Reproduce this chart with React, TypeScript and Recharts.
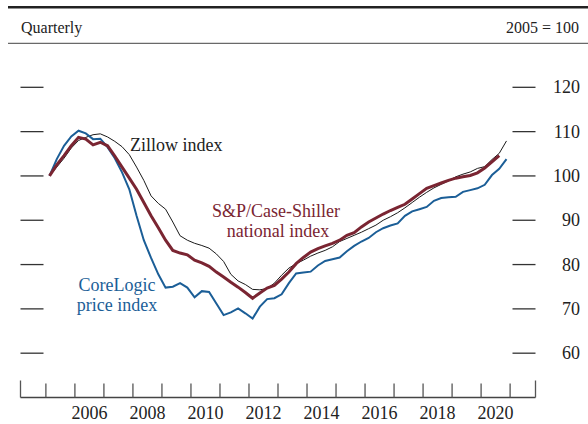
import { LineChart, Line, XAxis, YAxis } from 'recharts'

// quarterly, 2005Q1 .. 2020Q4, plotted at mid-quarter
const startYear = 2005
const quarterCount = 64

const zillow = [
  100, 102.0, 104.0, 106.3, 108.0, 108.7, 109.3, 109.5,
  108.8, 107.8, 106.6, 104.8, 102.0, 99.0, 95.5, 93.8,
  92.5, 89.6, 86.5, 85.5, 84.8, 84.3, 83.7, 82.4,
  80.7, 77.8, 76.3, 75.5, 74.4, 74.3, 74.6, 75.8,
  77.6, 79.2, 80.2, 81.0, 81.9, 82.6, 83.2, 84.0,
  85.2, 85.9, 86.6, 87.3, 88.1, 88.9, 90.0, 90.8,
  91.7, 92.8, 94.0, 95.2, 96.3, 97.3, 98.1, 98.9,
  99.8, 100.4, 100.9, 101.7, 102.1, 103.7, 105.1, 107.9,
]

const caseShiller = [
  100, 102.5, 104.6, 106.8, 108.7, 108.3, 107.0, 107.6,
  106.8, 104.5, 102.0, 99.5, 97.0, 94.0, 91.0, 88.3,
  85.5, 83.2, 82.6, 82.2, 81.0, 80.4, 79.6, 78.3,
  77.2, 76.0, 74.9, 73.7, 72.4, 73.6, 74.7, 75.3,
  76.7, 78.3, 80.2, 81.6, 82.8, 83.6, 84.2, 84.8,
  85.5, 86.6, 87.2, 88.5, 89.6, 90.5, 91.4, 92.2,
  92.9, 93.6, 94.8, 96.0, 97.2, 97.8, 98.4, 99.0,
  99.5, 99.8, 100.1, 100.7, 101.8, 103.2, 104.6,
]

const coreLogic = [
  100, 103.8, 106.8, 108.9, 110.2, 109.6, 108.3, 108.4,
  106.5, 104.0, 100.8, 97.0, 91.0, 85.5, 81.5, 77.8,
  74.8, 75.0, 75.8, 74.8, 72.6, 74.0, 73.8, 71.2,
  68.6, 69.2, 70.1, 69.0, 67.8, 70.5, 72.2, 72.4,
  73.3, 75.8, 78.0, 78.2, 78.4, 79.8, 80.8, 81.2,
  81.6, 83.0, 84.2, 85.2, 86.0, 87.3, 88.2, 88.8,
  89.3, 91.0, 92.0, 92.5, 93.0, 94.4, 95.0, 95.2,
  95.3, 96.4, 96.8, 97.2, 98.0, 100.2, 101.6, 103.8,
]

const yTicks = [60, 70, 80, 90, 100, 110, 120]
const xDomain = [2004.125, 2021.875]
// year boundaries get a tick mark, even years get a label mid-year
const yearTicks = [
  2005, 2006, 2007, 2008, 2009, 2010, 2011, 2012, 2013,
  2014, 2015, 2016, 2017, 2018, 2019, 2020, 2021,
]
const yearLabels = [2006, 2008, 2010, 2012, 2014, 2016, 2018, 2020]

const data = Array.from({ length: quarterCount }, (_, i) => ({
  t: startYear + i / 4 + 0.125,
  zillow: zillow[i],
  caseShiller: caseShiller[i],
  coreLogic: coreLogic[i],
}))

const xTicks = [
  xDomain[0],
  ...yearTicks,
  ...yearLabels.map((y) => y + 0.5),
  xDomain[1],
].sort((a, b) => a - b)

const font = '"Liberation Serif", "Times New Roman", serif'
const blue = '#1b5e97'
const red = '#7a2532'
const ink = '#222'

function YearTick(props: any) {
  const { x, y, payload } = props
  const v = payload.value
  if (v % 1 === 0.5) {
    return (
      <text
        x={x}
        y={y + 21}
        textAnchor="middle"
        fontFamily={font}
        fontSize={18}
        fill={ink}
      >
        {Math.floor(v)}
      </text>
    )
  }
  const isEnd = v % 1 !== 0
  return (
    <line
      x1={x}
      x2={x}
      y1={y - (isEnd ? 17 : 14)}
      y2={y}
      stroke="#555"
      strokeWidth={1.3}
    />
  )
}

function LeftTick(props: any) {
  const { x, y } = props
  return <line x1={x} x2={x + 23} y1={y} y2={y} stroke="#333" strokeWidth={1.3} />
}

function RightTick(props: any) {
  const { x, y, payload } = props
  return (
    <g>
      <line x1={x - 23} x2={x} y1={y} y2={y} stroke="#333" strokeWidth={1.3} />
      <text
        x={x + 44.5}
        y={y}
        dy={6}
        textAnchor="end"
        fontFamily={font}
        fontSize={18}
        fill={ink}
      >
        {payload.value}
      </text>
    </g>
  )
}

export default function App() {
  return (
    <div
      style={{
        position: 'absolute',
        left: 0,
        top: 0,
        width: 588,
        height: 424,
        background: '#fff',
      }}
    >
      <LineChart
        width={588}
        height={424}
        data={data}
        margin={{ top: 43, right: 0, bottom: 0, left: 19.5 }}
      >
        <XAxis
          dataKey="t"
          type="number"
          domain={xDomain}
          ticks={xTicks}
          height={26.5}
          tickSize={0}
          tickMargin={0}
          tickLine={false}
          tick={<YearTick />}
          interval={0}
          axisLine={{ stroke: '#444', strokeWidth: 1.3 }}
        />
        <YAxis
          yAxisId="left"
          orientation="left"
          dataKey="zillow"
          domain={[50, 130]}
          ticks={yTicks}
          width={1}
          tickSize={0}
          tickMargin={0}
          tickLine={false}
          axisLine={false}
          tick={<LeftTick />}
          interval={0}
        />
        <YAxis
          yAxisId="right"
          orientation="right"
          dataKey="zillow"
          domain={[50, 130]}
          ticks={yTicks}
          width={52.5}
          tickSize={0}
          tickMargin={0}
          axisLine={false}
          tickLine={false}
          tick={<RightTick />}
          interval={0}
        />
        <Line
          yAxisId="left"
          dataKey="zillow"
          stroke="#1a1a1a"
          strokeWidth={1}
          dot={false}
          type="linear"
          isAnimationActive={false}
        />
        <Line
          yAxisId="left"
          dataKey="coreLogic"
          stroke={blue}
          strokeWidth={2}
          dot={false}
          type="linear"
          isAnimationActive={false}
        />
        <Line
          yAxisId="left"
          dataKey="caseShiller"
          stroke={red}
          strokeWidth={3}
          dot={false}
          type="linear"
          isAnimationActive={false}
        />
      </LineChart>

      <svg
        width={588}
        height={424}
        style={{ position: 'absolute', left: 0, top: 0, pointerEvents: 'none' }}
      >
        <line x1={8} x2={588} y1={7.2} y2={7.2} stroke={ink} strokeWidth={2.5} />
        <line x1={8} x2={588} y1={43.3} y2={43.3} stroke="#444" strokeWidth={1} />
        <text x={21} y={33} fontFamily={font} fontSize={16} fill={ink}>
          Quarterly
        </text>
        <text x={579} y={33} textAnchor="end" fontFamily={font} fontSize={16} fill={ink}>
          2005 = 100
        </text>

        <text x={130} y={151} fontFamily={font} fontSize={18} fill={ink}>
          Zillow index
        </text>
        <text x={276} y={217} textAnchor="middle" fontFamily={font} fontSize={18} fill={red}>
          S&amp;P/Case-Shiller
        </text>
        <text x={278} y={237} textAnchor="middle" fontFamily={font} fontSize={18} fill={red}>
          national index
        </text>
        <text x={117} y={291} textAnchor="middle" fontFamily={font} fontSize={18} fill={blue}>
          CoreLogic
        </text>
        <text x={117} y={311} textAnchor="middle" fontFamily={font} fontSize={18} fill={blue}>
          price index
        </text>
      </svg>
    </div>
  )
}
